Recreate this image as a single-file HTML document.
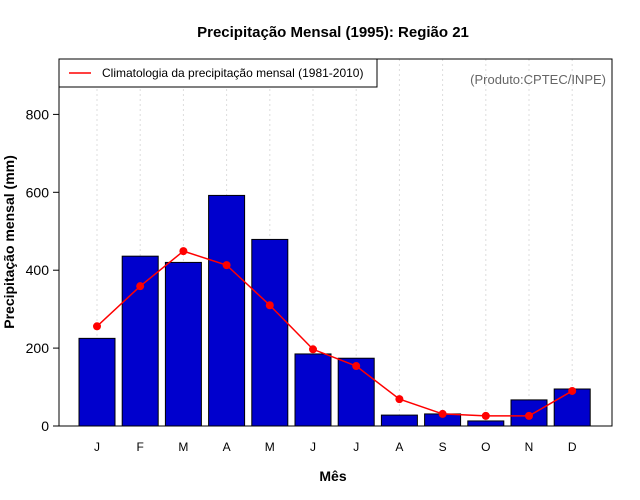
<!DOCTYPE html>
<html><head><meta charset="utf-8"><style>body{margin:0;background:#fff}svg{display:block;font-family:"Liberation Sans",sans-serif}</style></head>
<body>
<svg id="c" width="640" height="500"></svg>
<script>
const months=["J","F","M","A","M","J","J","A","S","O","N","D"];
const precip1995=[225,436,420,592,479,185,174,28,31,13,67,95];
const climatology=[256,359,449,413,310,197,154,69,31,26,26,90];
const yTicks=[0,200,400,600,800];
const NS="http://www.w3.org/2000/svg";
const svg=document.getElementById('c');
const L=59,R=612,T=59,B=426;
const y=v=>426-v*0.3895;
const x=i=>97+i*43.2;
function mk(tag,attrs,parent){const e=document.createElementNS(NS,tag);for(const k in attrs)e.setAttribute(k,attrs[k]);(parent||svg).appendChild(e);return e;}
let e;
e=mk('text',{x:333,y:37,'text-anchor':'middle','font-size':15,'font-weight':'bold'});e.textContent='Precipitação Mensal (1995): Região 21';

months.forEach((m,i)=>{
 e=mk('line',{x1:x(i),x2:x(i),y1:T,y2:B,stroke:'#ddd','stroke-dasharray':'2,3'});
 
});
precip1995.forEach((v,i)=>{
 e=mk('rect',{x:x(i)-18,y:y(v),width:36,height:B-y(v),fill:'#0000cd',stroke:'#000','stroke-width':1});
 
 e=mk('text',{x:x(i),y:451,'text-anchor':'middle','font-size':12});e.textContent=months[i];
 
});
e=mk('polyline',{points:climatology.map((v,i)=>x(i)+','+y(v)).join(' '),fill:'none',stroke:'#f00','stroke-width':1.5});

climatology.forEach((v,i)=>{
 e=mk('circle',{cx:x(i),cy:y(v),r:4,fill:'#f00'});
 
});
e=mk('rect',{x:L,y:T,width:R-L,height:B-T,fill:'none',stroke:'#000','stroke-width':1});

yTicks.forEach(t=>{
 e=mk('line',{x1:L-6,x2:L,y1:y(t),y2:y(t),stroke:'#000'});
 
 e=mk('text',{x:L-10,y:y(t)+5,'text-anchor':'end','font-size':14});e.textContent=t;
 
});
e=mk('text',{x:333,y:481,'text-anchor':'middle','font-size':14,'font-weight':'bold'});e.textContent='Mês';

e=mk('text',{x:14,y:242,'text-anchor':'middle','font-size':14,'font-weight':'bold',transform:'rotate(-90 14 242)'});e.textContent='Precipitação mensal (mm)';

const g=mk('g',{});

mk('rect',{x:59,y:59,width:318,height:28,fill:'#fff',stroke:'#000'},g);
mk('line',{x1:69,x2:91,y1:73,y2:73,stroke:'#f00','stroke-width':1.5},g);
e=mk('text',{x:102,y:77,'font-size':12},g);e.textContent='Climatologia da precipitação mensal (1981-2010)';
e=mk('text',{x:606,y:84,'text-anchor':'end','font-size':13,fill:'#666'});e.textContent='(Produto:CPTEC/INPE)';

</script>
</body></html>
